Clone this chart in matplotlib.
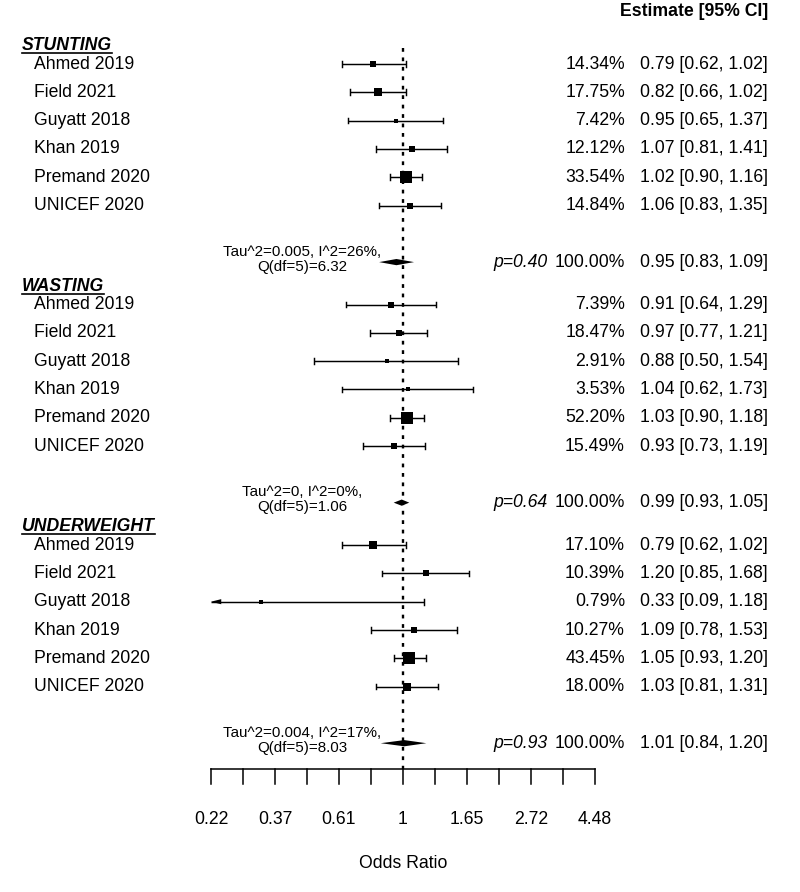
import numpy as np
import matplotlib
matplotlib.use("Agg")
import matplotlib.pyplot as plt

plt.rcParams["font.family"] = ["Liberation Sans", "DejaVu Sans"]

# ---- data ----
groups = ["STUNTING", "WASTING", "UNDERWEIGHT"]
studies = ["Ahmed 2019", "Field 2021", "Guyatt 2018", "Khan 2019", "Premand 2020", "UNICEF 2020"]

stunting_or = [0.79, 0.82, 0.95, 1.07, 1.02, 1.06]
stunting_lo = [0.62, 0.66, 0.65, 0.81, 0.90, 0.83]
stunting_hi = [1.02, 1.02, 1.37, 1.41, 1.16, 1.35]
stunting_w = [14.34, 17.75, 7.42, 12.12, 33.54, 14.84]

wasting_or = [0.91, 0.97, 0.88, 1.04, 1.03, 0.93]
wasting_lo = [0.64, 0.77, 0.50, 0.62, 0.90, 0.73]
wasting_hi = [1.29, 1.21, 1.54, 1.73, 1.18, 1.19]
wasting_w = [7.39, 18.47, 2.91, 3.53, 52.20, 15.49]

underweight_or = [0.79, 1.20, 0.33, 1.09, 1.05, 1.03]
underweight_lo = [0.62, 0.85, 0.09, 0.78, 0.93, 0.81]
underweight_hi = [1.02, 1.68, 1.18, 1.53, 1.20, 1.31]
underweight_w = [17.10, 10.39, 0.79, 10.27, 43.45, 18.00]

summary_or = [0.95, 0.99, 1.01]
summary_lo = [0.83, 0.93, 0.84]
summary_hi = [1.09, 1.05, 1.20]
summary_p = ["0.40", "0.64", "0.93"]
summary_tau2 = ["0.005", "0", "0.004"]
summary_i2 = ["26", "0", "17"]
summary_q = ["6.32", "1.06", "8.03"]
summary_df = [5, 5, 5]

tick_vals = np.arange(-1.5, 1.51, 0.25)  # log(OR) ticks

group_data = [
    (stunting_or, stunting_lo, stunting_hi, stunting_w),
    (wasting_or, wasting_lo, wasting_hi, wasting_w),
    (underweight_or, underweight_lo, underweight_hi, underweight_w),
]

# ---- layout ----
W, H, DPI = 800, 892, 100
ROW_PX = 28.3
ROW0_PX = 64
X0_PX = 403
PX_PER_UNIT = 128

fig = plt.figure(figsize=(W / DPI, H / DPI), dpi=DPI)
ax = fig.add_axes([0, 0, 1, 1])
ax.set_xlim(-X0_PX / PX_PER_UNIT, (W - X0_PX) / PX_PER_UNIT)
ax.set_ylim((H - ROW0_PX) / ROW_PX, -ROW0_PX / ROW_PX)
ax.axis("off")
tr = ax.get_yaxis_transform()  # x in axes fraction, y in rows

FS = 12.7
LW = 1.05
xmin, xmax = tick_vals[0], tick_vals[-1]
cap = 0.1
group_step = 8.5
axis_row = 24.9

header_texts = []
for g, (name, (orv, lo, hi, w)) in enumerate(zip(groups, group_data)):
    start = g * group_step
    t = ax.text(22 / W, start - 0.64, name, transform=tr, fontsize=FS,
                fontweight="bold", fontstyle="italic", va="center", ha="left")
    header_texts.append((t, start - 0.64))

    w = np.array(w)
    sizes = 0.5 + (w - w.min()) / (w.max() - w.min())
    sizes = sizes * 8.5  # px

    for i in range(len(studies)):
        y = start + i
        est, l, h = np.log(orv[i]), np.log(lo[i]), np.log(hi[i])
        left = max(l, xmin)
        ax.plot([left, h], [y, y], color="black", lw=LW, solid_capstyle="butt", zorder=3)
        ax.plot([h, h], [y - cap, y + cap], color="black", lw=LW, zorder=3)
        if l < xmin:
            ax.fill([xmin, xmin + 0.08, xmin + 0.08], [y, y - 0.09, y + 0.09],
                    color="black", lw=0, zorder=3)
        else:
            ax.plot([l, l], [y - cap, y + cap], color="black", lw=LW, zorder=3)
        ax.plot(est, y, marker="s", color="black", markersize=sizes[i] * 0.72,
                markeredgewidth=0, zorder=4)

        ax.text(34 / W, y, studies[i], transform=tr, fontsize=FS, va="center", ha="left")
        ax.text(625 / W, y, f"{w[i]:.2f}%", transform=tr, fontsize=FS, va="center", ha="right")
        ax.text(768 / W, y, f"{orv[i]:.2f} [{lo[i]:.2f}, {hi[i]:.2f}]", transform=tr,
                fontsize=FS, va="center", ha="right")

    # summary diamond
    ys = start + 7
    se, sl, sh = np.log(summary_or[g]), np.log(summary_lo[g]), np.log(summary_hi[g])
    ax.fill([sl, se, sh, se], [ys, ys - 0.11, ys, ys + 0.11], color="black", lw=0, zorder=4)
    ax.text(302 / W, ys - 0.1,
            f"Tau^2={summary_tau2[g]}, I^2={summary_i2[g]}%,\nQ(df={summary_df[g]})={summary_q[g]}",
            transform=tr, fontsize=10.9, ha="center", va="center", linespacing=1.1)
    ax.text(548 / W, ys, f"p={summary_p[g]}", transform=tr, fontsize=FS,
            fontstyle="italic", va="center", ha="right")
    ax.text(625 / W, ys, "100.00%", transform=tr, fontsize=FS, va="center", ha="right")
    ax.text(768 / W, ys, f"{summary_or[g]:.2f} [{summary_lo[g]:.2f}, {summary_hi[g]:.2f}]",
            transform=tr, fontsize=FS, va="center", ha="right")

# column header
ax.text(768 / W, -1.84, "Estimate [95% CI]", transform=tr, fontsize=FS,
        fontweight="bold", va="center", ha="right")

# reference line at OR = 1
ax.plot([0, 0], [-0.55, axis_row], color="black", lw=1.7,
        linestyle=(0, (1.6, 2.4)), zorder=2)

# bottom axis as a comb
ax.plot([xmin, xmax], [axis_row, axis_row], color="black", lw=1.1)
for k, tv in enumerate(tick_vals):
    ax.plot([tv, tv], [axis_row, axis_row + 0.53], color="black", lw=1.1)
    if k % 2 == 0:
        lab = f"{np.exp(tv):.2f}".rstrip("0").rstrip(".")
        ax.text(tv, 26.7, lab, fontsize=FS, ha="center", va="center")
ax.text(0, 28.25, "Odds Ratio", fontsize=FS, ha="center", va="center")

# underline the group headers
fig.canvas.draw()
renderer = fig.canvas.get_renderer()
for t, yrow in header_texts:
    bb = t.get_window_extent(renderer)
    ax.plot([bb.x0 / W, bb.x1 / W], [yrow + 0.26, yrow + 0.26], transform=tr,
            color="black", lw=1.2)

fig.savefig("out.png", dpi=DPI)
